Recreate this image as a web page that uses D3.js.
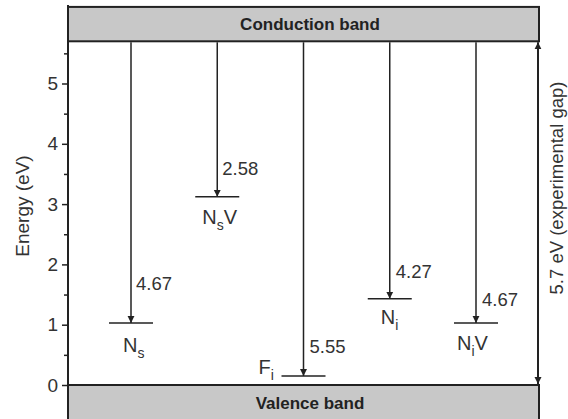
<!DOCTYPE html>
<html>
<head>
<meta charset="utf-8">
<script src="https://cdn.jsdelivr.net/npm/d3@7"></script>
<style>
  html, body { margin: 0; padding: 0; background: #fff; }
  svg { display: block; font-family: "Liberation Sans", Arial, sans-serif; }
</style>
</head>
<body>
<svg id="chart" width="568" height="419"></svg>
<script>
// ---- data ----
const categories = ["Ns", "NsV", "Fi", "Ni", "NiV"];
const transitionEnergies = [4.67, 2.58, 5.55, 4.27, 4.67];   // eV, from conduction band down
const labelMain = ["N", "N", "F", "N", "N"];
const labelSub  = ["s", "s", "i", "i", "i"];
const labelTail = ["", "V", "", "", "V"];
const gapEnergy = 5.7;
const yTicksMajor = [0, 1, 2, 3, 4, 5];
const yTicksMinor = [0.5, 1.5, 2.5, 3.5, 4.5, 5.5];
const bandNames = ["Conduction band", "Valence band"];

// ---- layout (pixel offsets of annotations, not data) ----
const valueOffset = [[5, -39], [5, -28], [6, -29], [6, -27], [6, -23]];   // [dx, dy to text centre]
const nameOffset  = [[-8, 29], [-15, 27], [-45, -2], [-9, 25], [-19, 27]]; // [dx, dy to baseline]

const svg = d3.select("#chart");
const ink = "#222";
const axisX = 68, rightX = 539;

const y = d3.scaleLinear().domain([0, 5]).range([385, 83.5]);
const x = d3.scalePoint().domain(categories).range([131, 476]);

// arrow markers
const defs = svg.append("defs");
function marker(id, orient) {
  defs.append("marker")
    .attr("id", id).attr("viewBox", "0 0 10 10")
    .attr("refX", 10).attr("refY", 5)
    .attr("markerWidth", 7).attr("markerHeight", 10)
    .attr("markerUnits", "userSpaceOnUse")
    .attr("orient", orient)
    .append("path").attr("d", "M0,0 L10,5 L0,10 Z").attr("fill", ink);
}
marker("head", "auto");
marker("headStart", "auto-start-reverse");

// bands
const bandTop = 6.27, bandBottom = -0.6;
svg.append("rect")
  .attr("x", axisX).attr("y", y(bandTop))
  .attr("width", rightX - axisX).attr("height", y(gapEnergy) - y(bandTop))
  .attr("fill", "#c8c8c8").attr("stroke", ink).attr("stroke-width", 2);
svg.append("rect")
  .attr("x", axisX).attr("y", y(0))
  .attr("width", rightX - axisX).attr("height", y(bandBottom) - y(0))
  .attr("fill", "#c8c8c8").attr("stroke", ink).attr("stroke-width", 2);

const midX = 310;
svg.append("text").attr("x", midX).attr("y", (y(bandTop) + y(gapEnergy)) / 2)
  .attr("text-anchor", "middle").attr("dominant-baseline", "central")
  .attr("font-weight", "bold").attr("font-size", 17).attr("fill", ink)
  .text(bandNames[0]);
svg.append("text").attr("x", midX).attr("y", 403)
  .attr("text-anchor", "middle").attr("dominant-baseline", "central")
  .attr("font-weight", "bold").attr("font-size", 17).attr("fill", ink)
  .text(bandNames[1]);

// left axis
svg.append("line").attr("x1", axisX).attr("x2", axisX)
  .attr("y1", 5).attr("y2", 419).attr("stroke", ink).attr("stroke-width", 2);
const axis = d3.axisLeft(y).tickValues(yTicksMajor).tickSize(6).tickPadding(4).tickFormat(d3.format("d"));
const gAxis = svg.append("g").attr("transform", `translate(${axisX},0)`).call(axis);
gAxis.select(".domain").remove();
gAxis.selectAll(".tick line").attr("stroke", ink).attr("stroke-width", 1.5);
gAxis.selectAll(".tick text").attr("font-size", 19).attr("fill", "#333")
  .attr("font-family", "Liberation Sans, Arial, sans-serif");
const axisMinor = d3.axisLeft(y).tickValues(yTicksMinor).tickSize(4).tickFormat("");
const gMinor = svg.append("g").attr("transform", `translate(${axisX},0)`).call(axisMinor);
gMinor.select(".domain").remove();
gMinor.selectAll(".tick line").attr("stroke", ink).attr("stroke-width", 1.5);

svg.append("text")
  .attr("transform", `translate(22,${206}) rotate(-90)`)
  .attr("text-anchor", "middle").attr("dominant-baseline", "central")
  .attr("font-size", 19).attr("fill", "#333").text("Energy (eV)");

// transitions
const rows = categories.map((c, i) => ({
  c, e: transitionEnergies[i], level: gapEnergy - transitionEnergies[i], i
}));

const g = svg.append("g");
g.selectAll("line.arrow").data(rows).join("line")
  .attr("class", "arrow")
  .attr("x1", d => x(d.c)).attr("x2", d => x(d.c))
  .attr("y1", y(gapEnergy) + 1).attr("y2", d => y(d.level))
  .attr("stroke", ink).attr("stroke-width", 1.5)
  .attr("marker-end", "url(#head)");

g.selectAll("line.level").data(rows).join("line")
  .attr("class", "level")
  .attr("x1", d => x(d.c) - 22).attr("x2", d => x(d.c) + 22)
  .attr("y1", d => y(d.level)).attr("y2", d => y(d.level))
  .attr("stroke", ink).attr("stroke-width", 1.5);

g.selectAll("text.val").data(rows).join("text")
  .attr("class", "val")
  .attr("x", d => x(d.c) + valueOffset[d.i][0])
  .attr("y", d => y(d.level) + valueOffset[d.i][1])
  .attr("dominant-baseline", "central")
  .attr("font-size", 18.5).attr("fill", "#333")
  .text(d => d3.format(".2f")(d.e));

const names = g.selectAll("text.name").data(rows).join("text")
  .attr("class", "name")
  .attr("x", d => x(d.c) + nameOffset[d.i][0])
  .attr("y", d => y(d.level) + nameOffset[d.i][1])
  .attr("font-size", 20).attr("fill", "#333");
names.append("tspan").text(d => labelMain[d.i]);
names.append("tspan").attr("font-size", 14).attr("dy", 6).text(d => labelSub[d.i]);
names.append("tspan").attr("dy", -6).text(d => labelTail[d.i]);

// experimental gap arrow
svg.append("line")
  .attr("x1", rightX - 1).attr("x2", rightX - 1)
  .attr("y1", y(gapEnergy) + 1).attr("y2", y(0) - 1)
  .attr("stroke", ink).attr("stroke-width", 2)
  .attr("marker-start", "url(#headStart)").attr("marker-end", "url(#head)");

svg.append("text")
  .attr("transform", `translate(556,${188}) rotate(-90)`)
  .attr("text-anchor", "middle").attr("dominant-baseline", "central")
  .attr("font-size", 18.5).attr("fill", "#333")
  .text(`${gapEnergy} eV (experimental gap)`);
</script>
</body>
</html>
